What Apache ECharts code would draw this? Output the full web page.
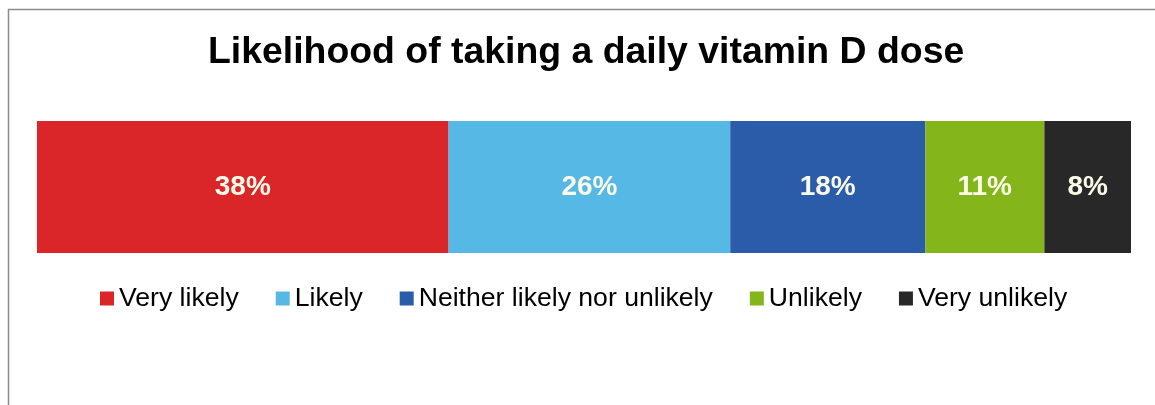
<!DOCTYPE html>
<html>
<head>
<meta charset="utf-8">
<script src="https://cdn.jsdelivr.net/npm/echarts@6/dist/echarts.min.js"></script>
<style>
  html, body { margin: 0; padding: 0; background: #fff; }
  #chart { width: 1155px; height: 405px; }
</style>
</head>
<body>
<div id="chart"></div>
<script>
// Survey answers, in stacking order from left to right
const categories = ['Very likely', 'Likely', 'Neither likely nor unlikely', 'Unlikely', 'Very unlikely'];
const shares = [38, 26, 18, 11, 8];
const colors = ['#DA2628', '#56B8E4', '#2A5CAA', '#84B51A', '#282828'];
const rowLabels = ['All'];

const total = shares.reduce((a, b) => a + b, 0);
const FONT = '"Liberation Sans", Arial, sans-serif';

const chart = echarts.init(document.getElementById('chart'), null, { renderer: 'canvas' });

const series = categories.map((name, i) => ({
  name: name,
  type: 'bar',
  stack: 'total',
  barWidth: '100%',
  data: [shares[i]],
  itemStyle: { color: colors[i] },
  label: {
    show: true,
    position: 'inside',
    formatter: '{c}%',
    color: '#FAFAE8',
    fontFamily: FONT,
    fontWeight: 'bold',
    fontSize: 28
  },
  emphasis: { disabled: true }
}));

chart.setOption({
  animation: false,
  backgroundColor: '#ffffff',
  title: {
    text: 'Likelihood of taking a daily vitamin D dose',
    left: 203,
    top: 29,
    textStyle: {
      fontFamily: FONT,
      fontWeight: 'bold',
      fontSize: 37.4,
      color: '#000000'
    }
  },
  legend: {
    data: categories,
    left: 95,
    top: 280,
    icon: 'rect',
    itemWidth: 14,
    itemHeight: 14,
    itemGap: 37,
    textStyle: {
      fontFamily: FONT,
      fontSize: 26.6,
      color: '#000000'
    }
  },
  grid: { left: 37, right: 24, top: 121, height: 132 },
  xAxis: {
    type: 'value',
    min: 0,
    max: total,
    show: false
  },
  yAxis: {
    type: 'category',
    data: rowLabels,
    show: false
  },
  graphic: [{
    type: 'rect',
    shape: { x: 8.5, y: 9.5, width: 1200, height: 500 },
    style: { fill: 'none', stroke: '#8c8c8c', lineWidth: 1.5 },
    silent: true
  }],
  series: series
});
</script>
</body>
</html>
